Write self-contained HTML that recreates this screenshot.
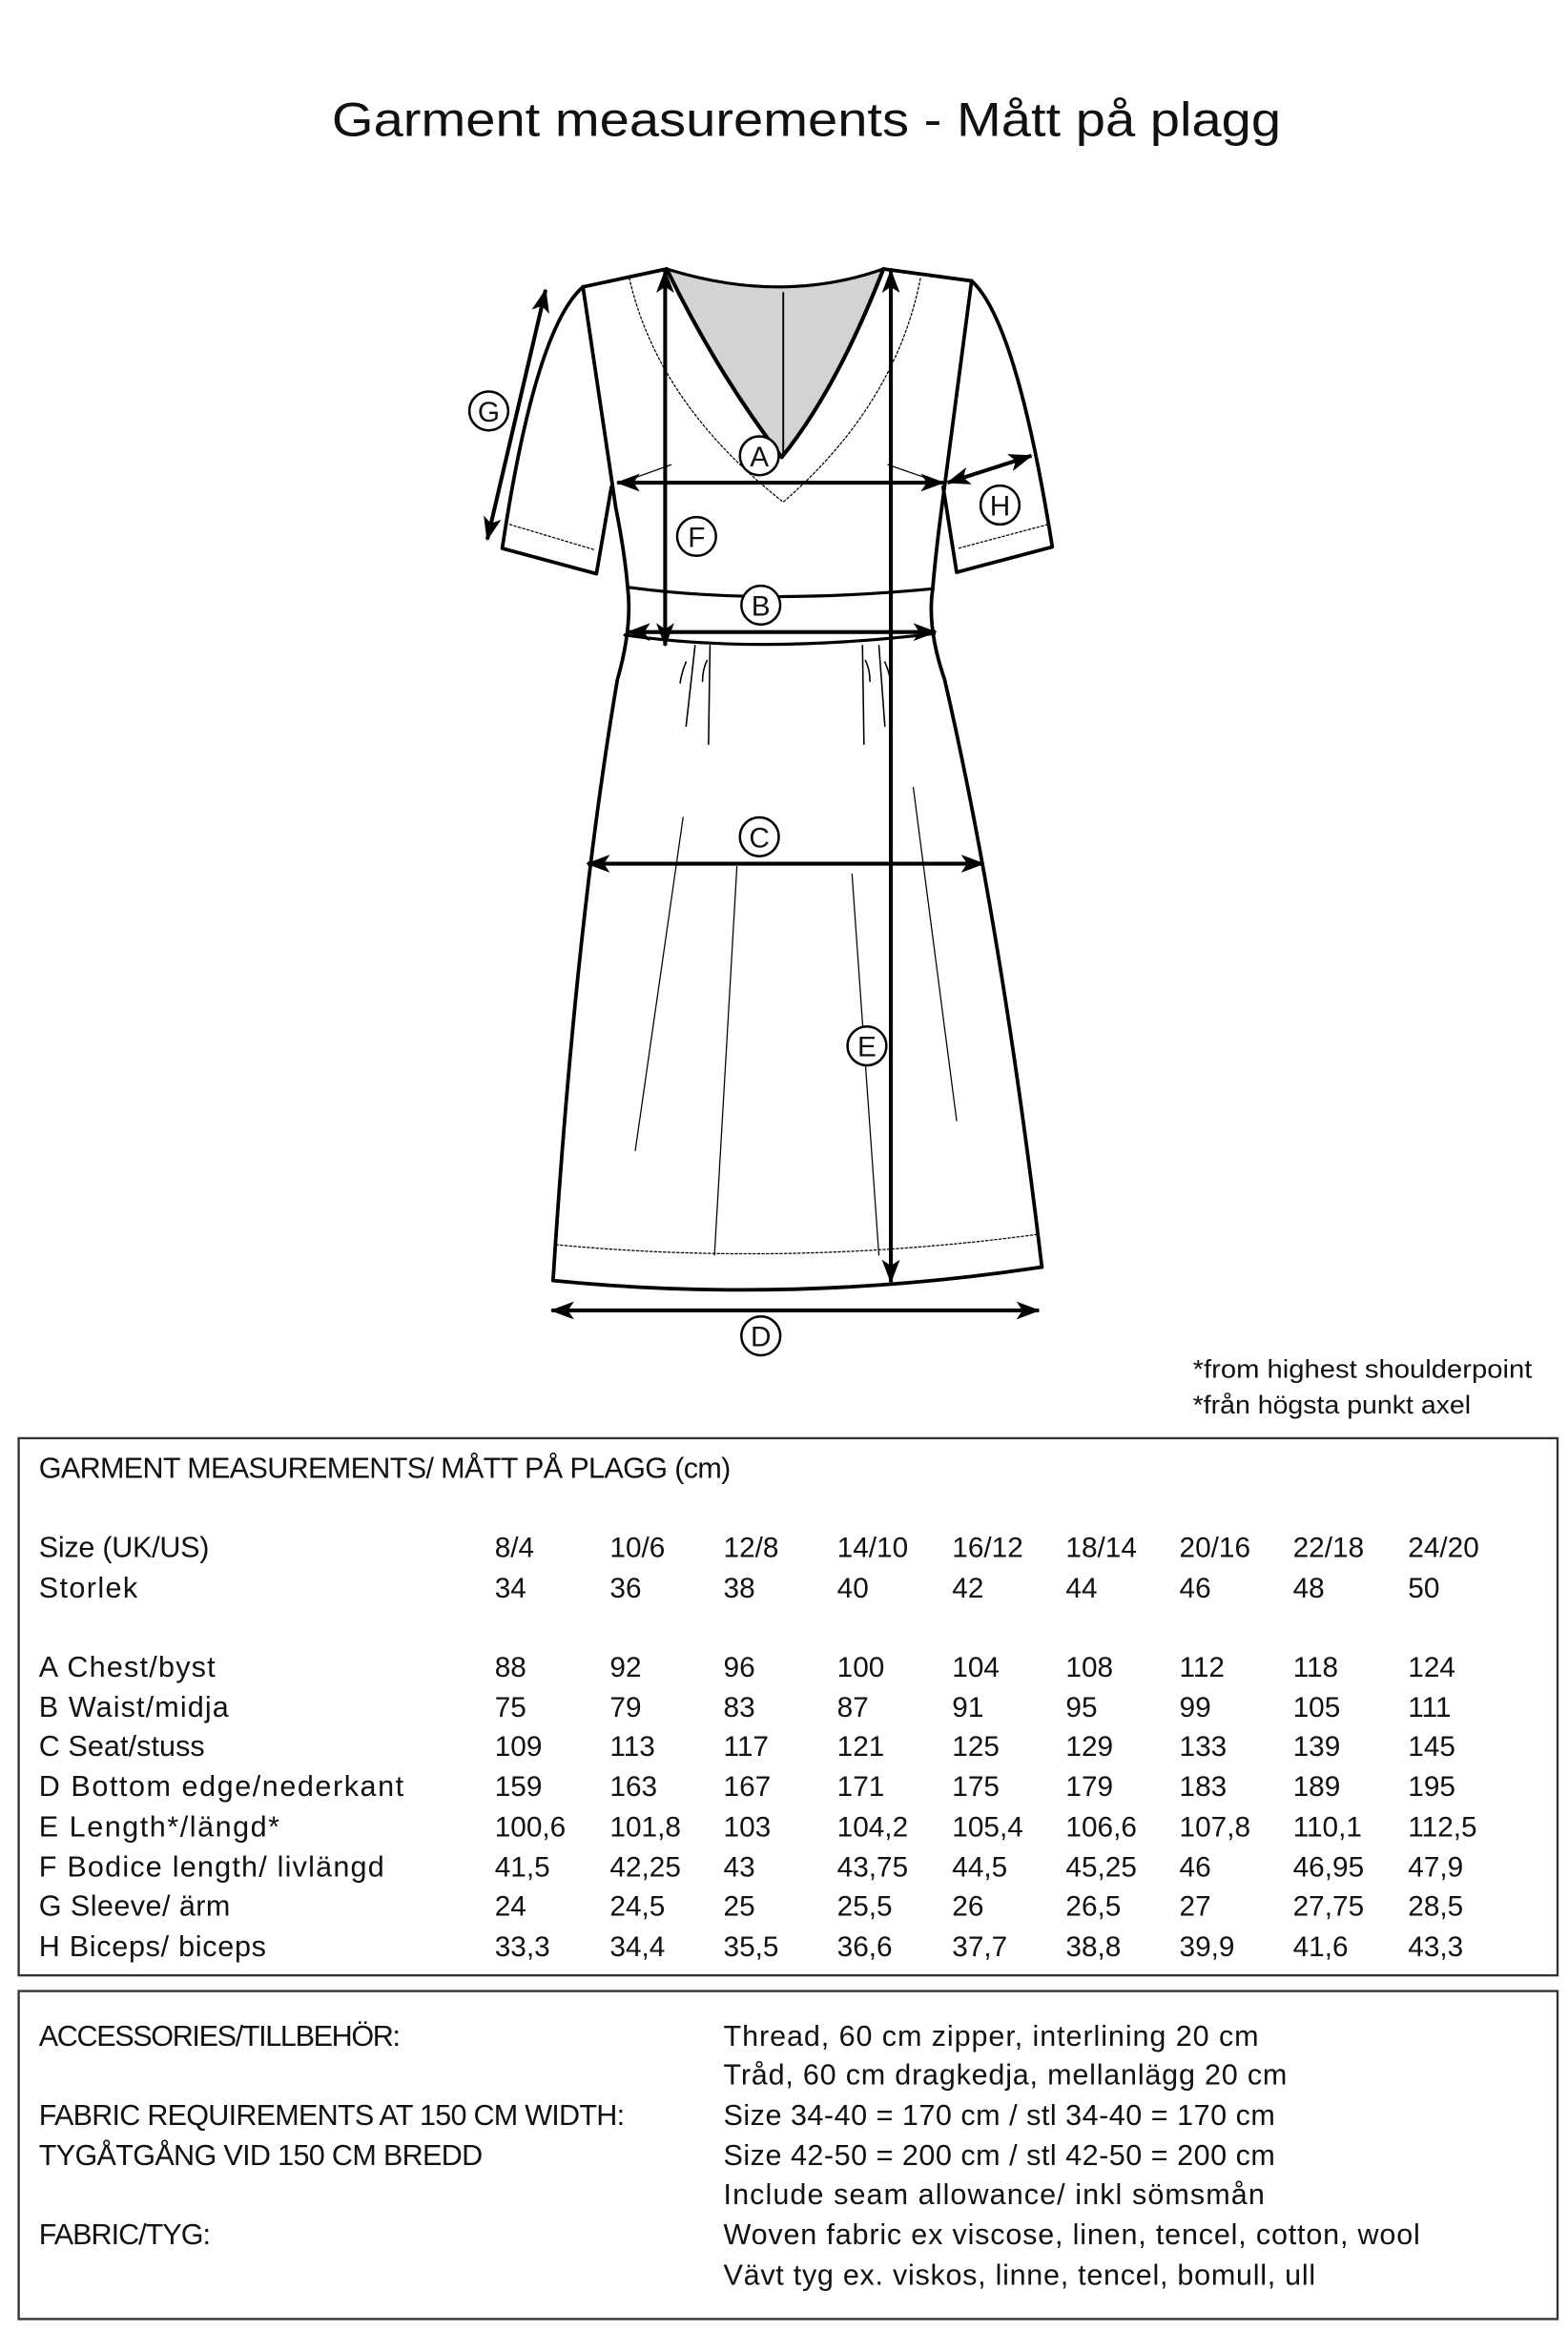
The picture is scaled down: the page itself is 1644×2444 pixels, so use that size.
<!DOCTYPE html>
<html><head><meta charset="utf-8"><style>
html,body{margin:0;padding:0;background:#fff;}
svg{display:block;}
text{font-family:"Liberation Sans",sans-serif;fill:#111;}
</style></head><body>
<svg width="1644" height="2444" viewBox="0 0 1049 1560" preserveAspectRatio="none" xmlns="http://www.w3.org/2000/svg">
<defs>
<marker id="ah" viewBox="0 0 16 12" refX="15" refY="6" markerWidth="16" markerHeight="12" markerUnits="userSpaceOnUse" orient="auto-start-reverse">
<path d="M0,0 L16,6 L0,12 L4,6 z" fill="#000"/>
</marker>
</defs>
<rect width="1049" height="1560" fill="#fff"/>
<text x="222" y="91" font-size="32" textLength="635" lengthAdjust="spacingAndGlyphs">Garment measurements - Mått på plagg</text>

<g fill="none" stroke="#000" stroke-linecap="round" stroke-linejoin="round">
<path d="M446,180 Q523,204 591,180 Q560,260 523,306 Q480,250 446,180 Z" fill="#d3d3d3" stroke="none"/>
<path d="M446,180 Q523,204 591,180" stroke-width="2"/>
<path d="M446,180 Q480,250 523,306 Q560,260 591,180" stroke-width="2.6"/>
<line x1="524" y1="196" x2="524" y2="304" stroke-width="1.2"/>
<path d="M421,186 Q440,270 524,336 Q600,270 616,185" stroke-width="0.8" stroke-dasharray="1.5,1.5"/>
<path d="M446,180 L390,192" stroke-width="2.4"/>
<path d="M591,180 L650,188" stroke-width="2.4"/>
<!-- left sleeve -->
<path d="M390,192 Q358,220 336,367 L399,384 L409,326" stroke-width="2.4"/>
<path d="M341,351 L398,368" stroke-width="0.8" stroke-dasharray="1.5,1.5"/>
<!-- right sleeve -->
<path d="M650,188 Q680,215 704,366 L640,383 L631,326" stroke-width="2.4"/>
<path d="M701,351 L641,367" stroke-width="0.8" stroke-dasharray="1.5,1.5"/>
<!-- body sides / armholes -->
<path d="M390,192 Q403,280 412,340 Q418,370 420,394 Q423,420 413,455 Q385,620 370,857" stroke-width="2.4"/>
<path d="M650,188 Q638,280 630,340 Q626,370 624,394 Q620,420 632,455 Q670,620 697,848" stroke-width="2.4"/>
<path d="M370,857 Q530,873 697,848" stroke-width="2.4"/>
<path d="M372,833 Q530,848 695,826" stroke-width="0.8" stroke-dasharray="1.5,1.5"/>
<path d="M420,393 Q508,405 624,394" stroke-width="2"/>
<path d="M418,425 Q508,438 625,424" stroke-width="2"/>
<path d="M465,432 L459,486 M459,443 Q456,450 455,457" stroke-width="1"/>
<path d="M475,432 L474,498 M473,442 Q470,448 470,456" stroke-width="1"/>
<path d="M577,432 L578,498 M579,442 Q582,448 582,456" stroke-width="1"/>
<path d="M588,432 L592,486 M592,443 Q595,450 596,457" stroke-width="1"/>
<line x1="457" y1="547" x2="425" y2="770" stroke-width="0.8"/>
<line x1="493" y1="580" x2="478" y2="840" stroke-width="0.8"/>
<line x1="570" y1="585" x2="588" y2="840" stroke-width="0.8"/>
<line x1="611" y1="527" x2="640" y2="750" stroke-width="0.8"/>
<line x1="449" y1="311" x2="424" y2="320" stroke-width="0.8"/>
<line x1="594" y1="311" x2="620" y2="320" stroke-width="0.8"/>
</g>

<g stroke="#000" stroke-width="2.6" fill="none">
<line x1="365" y1="194" x2="326" y2="361" marker-start="url(#ah)" marker-end="url(#ah)"/>
<line x1="413" y1="323" x2="631" y2="323" marker-start="url(#ah)" marker-end="url(#ah)"/>
<line x1="445" y1="181" x2="445" y2="432" marker-start="url(#ah)" marker-end="url(#ah)"/>
<line x1="596" y1="181" x2="596" y2="858" marker-start="url(#ah)" marker-end="url(#ah)"/>
<line x1="420" y1="423" x2="626" y2="423" marker-start="url(#ah)" marker-end="url(#ah)"/>
<line x1="393" y1="578" x2="658" y2="578" marker-start="url(#ah)" marker-end="url(#ah)"/>
<line x1="369" y1="877" x2="695" y2="877" marker-start="url(#ah)" marker-end="url(#ah)"/>
<line x1="634" y1="323" x2="690" y2="305" marker-start="url(#ah)" marker-end="url(#ah)"/>
</g>

<g font-size="19" text-anchor="middle">
<g fill="#fff" stroke="#000" stroke-width="1.6">
<circle cx="327" cy="275" r="13"/><circle cx="508" cy="305" r="13"/><circle cx="466" cy="359" r="13"/>
<circle cx="669" cy="338" r="13"/><circle cx="509" cy="405" r="13"/><circle cx="508" cy="560" r="13"/>
<circle cx="580" cy="700" r="13"/><circle cx="509" cy="894" r="13"/>
</g>
<text x="327" y="282">G</text><text x="508" y="312">A</text><text x="466" y="366">F</text>
<text x="669" y="345">H</text><text x="509" y="412">B</text><text x="508" y="567">C</text>
<text x="580" y="707">E</text><text x="509" y="901">D</text>
</g>

<g font-size="17">
<text x="798" y="922" textLength="227" lengthAdjust="spacingAndGlyphs">*from highest shoulderpoint</text>
<text x="798" y="946" textLength="186" lengthAdjust="spacingAndGlyphs">*från högsta punkt axel</text>
</g>

<rect x="12.5" y="962.5" width="1029.5" height="359.5" fill="none" stroke="#333" stroke-width="1.5"/>
<rect x="12.5" y="1332.5" width="1029.5" height="219.5" fill="none" stroke="#333" stroke-width="1.5"/>

<g font-size="19.5" lengthAdjust="spacingAndGlyphs">
<text x="26" y="989" textLength="463">GARMENT MEASUREMENTS/ MÅTT PÅ PLAGG (cm)</text>
<text x="26" y="1042" textLength="114">Size (UK/US)</text>
<text x="26" y="1069" textLength="66">Storlek</text>
<text x="26" y="1122" textLength="118">A Chest/byst</text>
<text x="26" y="1149" textLength="127">B Waist/midja</text>
<text x="26" y="1175" textLength="111">C Seat/stuss</text>
<text x="26" y="1202" textLength="244">D Bottom edge/nederkant</text>
<text x="26" y="1229" textLength="161">E Length*/längd*</text>
<text x="26" y="1256" textLength="231">F Bodice length/ livlängd</text>
<text x="26" y="1282" textLength="128">G Sleeve/ ärm</text>
<text x="26" y="1309" textLength="152">H Biceps/ biceps</text>
</g>
<g font-size="19">
<text y="1042"><tspan x="331">8/4</tspan><tspan x="408">10/6</tspan><tspan x="484">12/8</tspan><tspan x="560">14/10</tspan><tspan x="637">16/12</tspan><tspan x="713">18/14</tspan><tspan x="789">20/16</tspan><tspan x="865">22/18</tspan><tspan x="942">24/20</tspan></text>
<text y="1069"><tspan x="331">34</tspan><tspan x="408">36</tspan><tspan x="484">38</tspan><tspan x="560">40</tspan><tspan x="637">42</tspan><tspan x="713">44</tspan><tspan x="789">46</tspan><tspan x="865">48</tspan><tspan x="942">50</tspan></text>
<text y="1122"><tspan x="331">88</tspan><tspan x="408">92</tspan><tspan x="484">96</tspan><tspan x="560">100</tspan><tspan x="637">104</tspan><tspan x="713">108</tspan><tspan x="789">112</tspan><tspan x="865">118</tspan><tspan x="942">124</tspan></text>
<text y="1149"><tspan x="331">75</tspan><tspan x="408">79</tspan><tspan x="484">83</tspan><tspan x="560">87</tspan><tspan x="637">91</tspan><tspan x="713">95</tspan><tspan x="789">99</tspan><tspan x="865">105</tspan><tspan x="942">111</tspan></text>
<text y="1175"><tspan x="331">109</tspan><tspan x="408">113</tspan><tspan x="484">117</tspan><tspan x="560">121</tspan><tspan x="637">125</tspan><tspan x="713">129</tspan><tspan x="789">133</tspan><tspan x="865">139</tspan><tspan x="942">145</tspan></text>
<text y="1202"><tspan x="331">159</tspan><tspan x="408">163</tspan><tspan x="484">167</tspan><tspan x="560">171</tspan><tspan x="637">175</tspan><tspan x="713">179</tspan><tspan x="789">183</tspan><tspan x="865">189</tspan><tspan x="942">195</tspan></text>
<text y="1229"><tspan x="331">100,6</tspan><tspan x="408">101,8</tspan><tspan x="484">103</tspan><tspan x="560">104,2</tspan><tspan x="637">105,4</tspan><tspan x="713">106,6</tspan><tspan x="789">107,8</tspan><tspan x="865">110,1</tspan><tspan x="942">112,5</tspan></text>
<text y="1256"><tspan x="331">41,5</tspan><tspan x="408">42,25</tspan><tspan x="484">43</tspan><tspan x="560">43,75</tspan><tspan x="637">44,5</tspan><tspan x="713">45,25</tspan><tspan x="789">46</tspan><tspan x="865">46,95</tspan><tspan x="942">47,9</tspan></text>
<text y="1282"><tspan x="331">24</tspan><tspan x="408">24,5</tspan><tspan x="484">25</tspan><tspan x="560">25,5</tspan><tspan x="637">26</tspan><tspan x="713">26,5</tspan><tspan x="789">27</tspan><tspan x="865">27,75</tspan><tspan x="942">28,5</tspan></text>
<text y="1309"><tspan x="331">33,3</tspan><tspan x="408">34,4</tspan><tspan x="484">35,5</tspan><tspan x="560">36,6</tspan><tspan x="637">37,7</tspan><tspan x="713">38,8</tspan><tspan x="789">39,9</tspan><tspan x="865">41,6</tspan><tspan x="942">43,3</tspan></text>
</g>

<g font-size="19.5" lengthAdjust="spacingAndGlyphs">
<text x="26" y="1369" textLength="242">ACCESSORIES/TILLBEHÖR:</text>
<text x="26" y="1422" textLength="392">FABRIC REQUIREMENTS AT 150 CM WIDTH:</text>
<text x="26" y="1449" textLength="297">TYGÅTGÅNG VID 150 CM BREDD</text>
<text x="26" y="1502" textLength="115">FABRIC/TYG:</text>
<text x="484" y="1369" textLength="358">Thread, 60 cm zipper, interlining 20 cm</text>
<text x="484" y="1395" textLength="377">Tråd, 60 cm dragkedja, mellanlägg 20 cm</text>
<text x="484" y="1422" textLength="369">Size 34-40 = 170 cm / stl 34-40 = 170 cm</text>
<text x="484" y="1449" textLength="369">Size 42-50 = 200 cm / stl 42-50 = 200 cm</text>
<text x="484" y="1475" textLength="362">Include seam allowance/ inkl sömsmån</text>
<text x="484" y="1502" textLength="466">Woven fabric ex viscose, linen, tencel, cotton, wool</text>
<text x="484" y="1529" textLength="396">Vävt tyg ex. viskos, linne, tencel, bomull, ull</text>
</g>
</svg>
</body></html>
